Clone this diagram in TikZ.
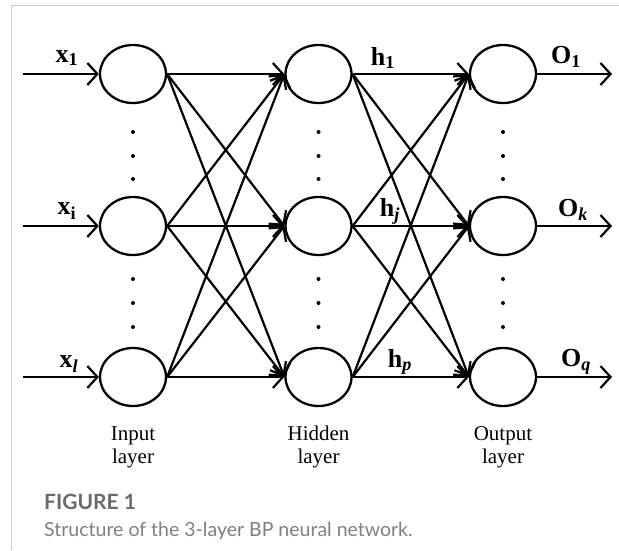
\documentclass[tikz,border=0pt]{standalone}
\usepackage{fontspec}
\setmainfont{Liberation Serif}
\newfontfamily\capfont{Lato}
\usetikzlibrary{shapes.geometric,arrows.meta}
\begin{document}
\begin{tikzpicture}[x=1pt,y=-1pt,
  neuron/.style={ellipse,draw,line width=2.3pt,minimum width=66pt,minimum height=58pt,inner sep=0pt},
  conn/.style={line width=2.2pt,-{Straight Barb[length=10pt,width=22pt,line width=2.2pt]}},
  vdot/.style={circle,fill=black,inner sep=0pt,minimum size=4pt},
  lab/.style={font=\fontsize{26}{26}\selectfont\bfseries},
  layerlab/.style={font=\fontsize{21}{23}\selectfont,align=center},
  frameline/.style={draw=black!20,line width=1pt}]
\useasboundingbox (0,0) rectangle (619,550);
\draw[frameline] (619,5) -- (11.5,5) -- (11.5,550);
% nodes
\node[neuron] (i1) at (133,74) {};
\node[neuron] (i2) at (133,226) {};
\node[neuron] (i3) at (133,377) {};
\node[neuron] (h1) at (318.5,74) {};
\node[neuron] (h2) at (318.5,226) {};
\node[neuron] (h3) at (318.5,377) {};
\node[neuron] (o1) at (503,74) {};
\node[neuron] (o2) at (503,226) {};
\node[neuron] (o3) at (503,377) {};
% input/output free ends
\coordinate (in1) at (23,74);
\coordinate (in2) at (23,226);
\coordinate (in3) at (23,377);
\coordinate (out1) at (612,74);
\coordinate (out2) at (612,226);
\coordinate (out3) at (612,377);
\foreach \k in {1,2,3}{
  \draw[conn] (in\k) -- (i\k.west);
  \draw[conn] (o\k.east) -- (out\k);
  \foreach \m in {1,2,3}{
    \draw[conn] (i\k.east) -- (h\m.west);
    \draw[conn] (h\k.east) -- (o\m.west);
  }
}
% dots
\foreach \xx in {133,318.5,503}{
  \foreach \yy in {132,156,179,279,303,327}{
    \node[vdot] at (\xx,\yy) {};
  }
}
% labels
\node[lab] (lx1) at (67,58) {x\textsubscript{1}};
\node[lab] (lx2) at (67,211) {x\textsubscript{i}};
\node[lab] (lx3) at (69,364) {x\textsubscript{\textit{l}}};
\node[lab] (lh1) at (383,58) {h\textsubscript{1}};
\node[lab] (lh2) at (390,211) {h\textsubscript{\textit{j}}};
\node[lab] (lh3) at (400,362) {h\textsubscript{\textit{p}}};
\node[lab] (lo1) at (566,57) {O\textsubscript{1}};
\node[lab] (lo2) at (573,210) {O\textsubscript{\textit{k}}};
\node[lab] (lo3) at (576,362) {O\textsubscript{\textit{q}}};
\node[layerlab] (ll1) at (133,447) {Input\\layer};
\node[layerlab] (ll2) at (318.5,447) {Hidden\\layer};
\node[layerlab] (ll3) at (503,447) {Output\\layer};
% caption
\node[anchor=west,font=\capfont\fontsize{21}{21}\selectfont\bfseries,text=black!58,inner sep=0pt] (fig) at (44,502) {FIGURE 1};
\node[anchor=west,font=\capfont\fontsize{19.5}{19.5}\selectfont,text=black!50,inner sep=0pt] (cap) at (44,531) {Structure of the 3-layer BP neural network.};
\end{tikzpicture}
\end{document}
